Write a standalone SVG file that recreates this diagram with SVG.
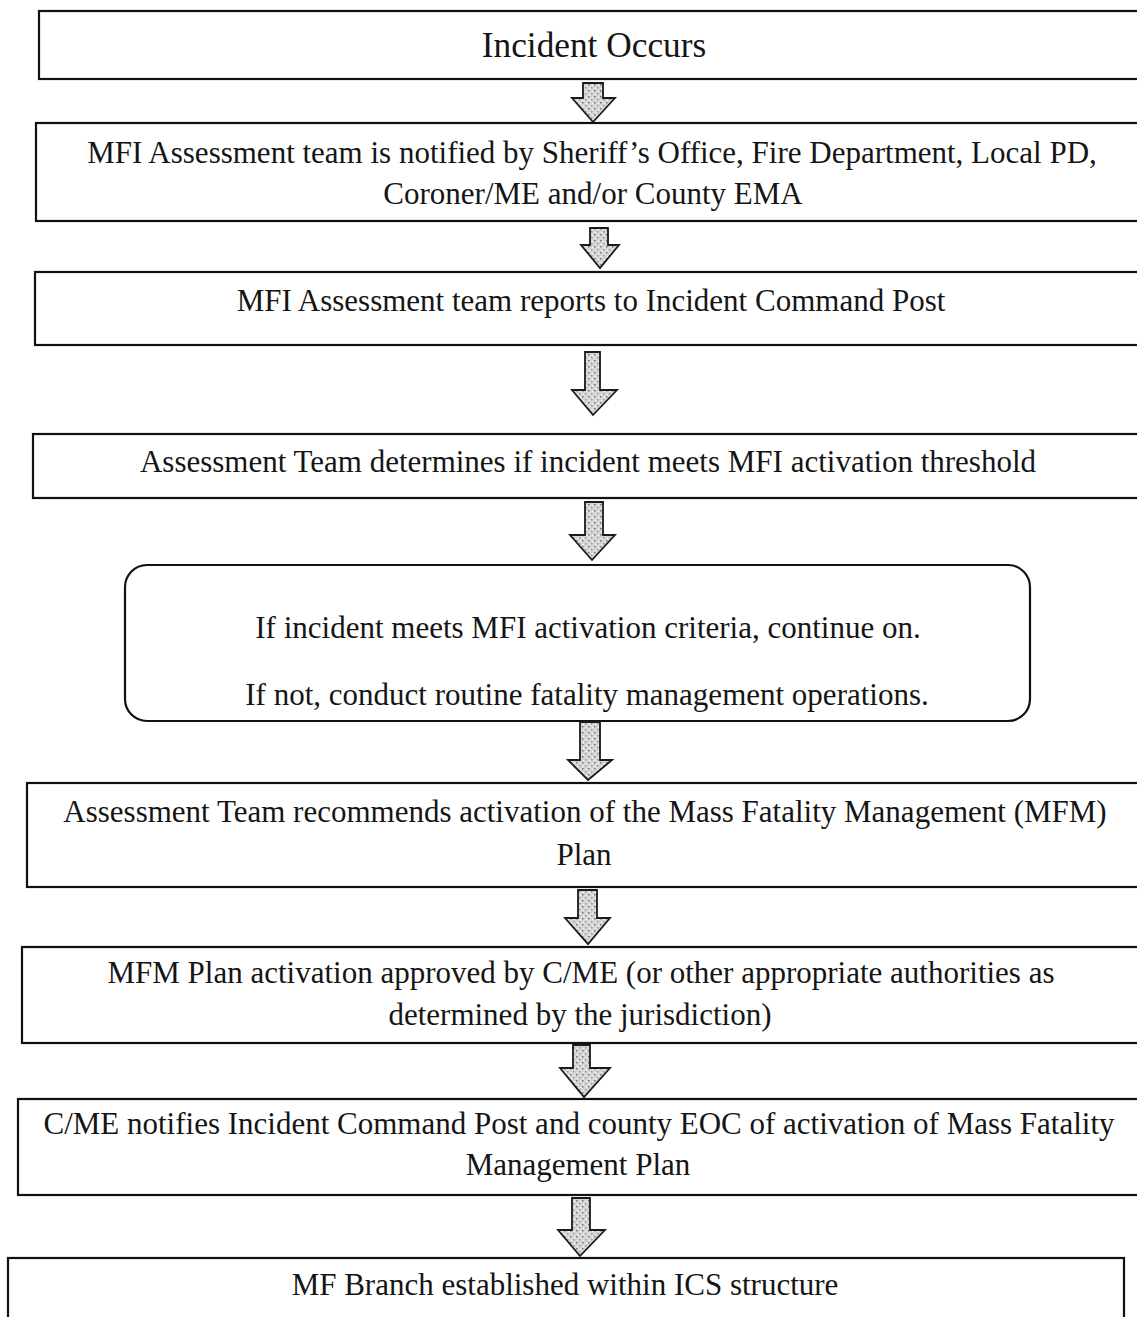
<svg xmlns="http://www.w3.org/2000/svg" width="1137" height="1317" viewBox="0 0 1137 1317">
  <style>
    .box { fill: #fff; stroke: #111; stroke-width: 2.2; }
    .lbl { font-family: "Liberation Serif", "Times New Roman", serif; font-size: 31px; fill: #151515; text-anchor: middle; }
    .big { font-size: 35.3px; }
    .arrow { fill: url(#stipple); stroke: #1a1a1a; stroke-width: 1.8; stroke-linejoin: miter; }
  </style>
  <defs>
    <!-- grainy grey fill used inside the block arrows -->
    <pattern id="stipple" width="6" height="6" patternUnits="userSpaceOnUse">
      <rect width="6" height="6" fill="#d6d6d6"/>
      <rect x="0" y="0" width="1.5" height="1.5" fill="#777"/>
      <rect x="3" y="3" width="1.5" height="1.5" fill="#999"/>
      <rect x="4" y="1" width="1" height="1" fill="#fff"/>
      <rect x="1" y="4" width="1" height="1" fill="#fff"/>
    </pattern>
  </defs>

  <rect width="1137" height="1317" fill="#fff"/>

  <g id="n1">
    <rect class="box" x="39" y="11" width="1110" height="68"/>
    <text class="lbl big" x="594" y="57">Incident Occurs</text>
  </g>

  <g id="n2">
    <rect class="box" x="36" y="123" width="1113" height="98"/>
    <text class="lbl" x="592" y="163">MFI Assessment team is notified by Sheriff’s Office, Fire Department, Local PD,</text>
    <text class="lbl" x="593" y="204">Coroner/ME and/or County EMA</text>
  </g>

  <g id="n3">
    <rect class="box" x="35" y="272" width="1114" height="73"/>
    <text class="lbl" x="591" y="311">MFI Assessment team reports to Incident Command Post</text>
  </g>

  <g id="n4">
    <rect class="box" x="33" y="434" width="1116" height="64"/>
    <text class="lbl" x="588" y="472">Assessment Team determines if incident meets MFI activation threshold</text>
  </g>

  <g id="n5">
    <rect class="box" x="125" y="565" width="905" height="156" rx="22" ry="22"/>
    <text class="lbl" x="588" y="638">If incident meets MFI activation criteria, continue on.</text>
    <text class="lbl" x="587" y="705">If not, conduct routine fatality management operations.</text>
  </g>

  <g id="n6">
    <rect class="box" x="27" y="783" width="1122" height="104"/>
    <text class="lbl" x="585" y="822">Assessment Team recommends activation of the Mass Fatality Management (MFM)</text>
    <text class="lbl" x="584" y="865">Plan</text>
  </g>

  <g id="n7">
    <rect class="box" x="22" y="947" width="1127" height="96"/>
    <text class="lbl" x="581" y="983">MFM Plan activation approved by C/ME (or other appropriate authorities as</text>
    <text class="lbl" x="580" y="1025">determined by the jurisdiction)</text>
  </g>

  <g id="n8">
    <rect class="box" x="18" y="1099" width="1131" height="96"/>
    <text class="lbl" x="579" y="1134">C/ME notifies Incident Command Post and county EOC of activation of Mass Fatality</text>
    <text class="lbl" x="578" y="1175">Management Plan</text>
  </g>

  <g id="n9">
    <rect class="box" x="8" y="1258" width="1116" height="80"/>
    <text class="lbl" x="565" y="1295">MF Branch established within ICS structure</text>
  </g>

  <g id="connectors">
    <path class="arrow" d="M583,83 H603 V98 H615 L593,122 L572,98 H583 Z"/>
    <path class="arrow" d="M590,228 H608 V245 H619 L600,268 L581,245 H590 Z"/>
    <path class="arrow" d="M585,352 H600 V390 H617 L593,415 L572,390 H585 Z"/>
    <path class="arrow" d="M585,502 H603 V535 H615 L592,560 L570,535 H585 Z"/>
    <path class="arrow" d="M580,722 H600 V760 H612 L588,780 L568,760 H580 Z"/>
    <path class="arrow" d="M578,890 H597 V918 H610 L588,944 L565,918 H578 Z"/>
    <path class="arrow" d="M573,1045 H590 V1068 H610 L584,1097 L560,1068 H573 Z"/>
    <path class="arrow" d="M572,1198 H590 V1230 H605 L580,1256 L558,1230 H572 Z"/>
  </g>
</svg>
